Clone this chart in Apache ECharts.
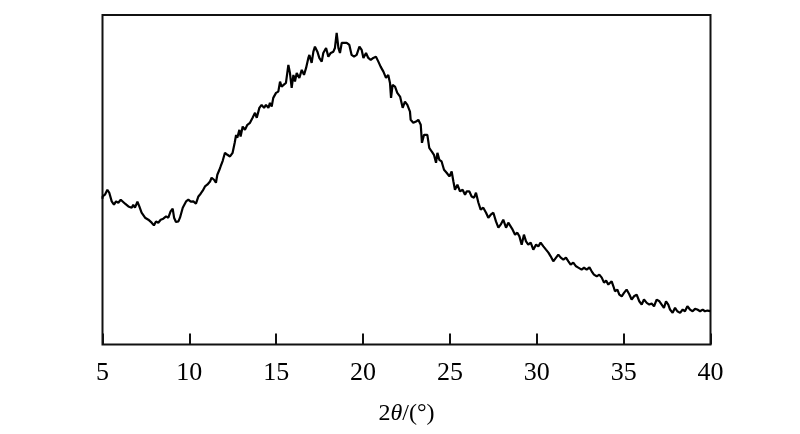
<!DOCTYPE html>
<html>
<head>
<meta charset="utf-8">
<script src="https://cdn.jsdelivr.net/npm/echarts@6/dist/echarts.min.js"></script>
<style>html,body{margin:0;padding:0;background:#fff}#c{width:800px;height:434px}</style>
</head>
<body>
<div id="c"></div>
<script>
// 2θ (degrees)
const twoTheta = [
 5.00,5.01,5.14,5.28,5.39,5.53,5.66,5.78,5.91,6.05,6.16,6.30,6.49,6.68,6.77,6.87,7.01,7.12,7.25,7.45,7.64,7.83,7.96,8.08,8.21,8.35,8.50,8.66,8.79,8.92,9.04,9.12,9.23,9.37,9.46,9.62,9.81,9.94,10.08,10.23,10.38,10.52,10.65,10.77,10.90,11.03,11.19,
 11.28,11.42,11.53,11.61,11.73,11.80,11.92,12.05,12.19,12.34,12.49,12.61,12.69,12.76,12.88,12.95,13.07,13.20,13.34,13.49,13.64,13.78,13.88,14.03,14.16,14.30,14.41,14.55,14.64,14.74,14.83,14.99,15.12,15.22,15.31,15.41,15.56,15.70,15.79,15.89,15.99,16.08,16.18,16.33,16.47,16.60,16.72,16.85,
 16.91,17.04,17.14,17.23,17.37,17.48,17.62,17.71,17.87,18.00,18.14,18.29,18.38,18.48,18.58,18.67,18.77,18.90,19.06,19.21,19.34,19.48,19.63,19.79,19.92,20.02,20.17,20.30,20.44,20.59,20.74,20.88,21.01,21.17,21.32,21.45,21.55,21.61,21.70,21.84,21.97,22.13,22.28,22.41,22.55,22.70,
 22.74,22.89,23.05,23.18,23.32,23.39,23.51,23.62,23.70,23.81,23.95,24.08,24.20,24.28,24.39,24.52,24.66,24.81,24.97,25.10,25.20,25.29,25.43,25.58,25.73,25.87,25.96,26.12,26.25,26.39,26.50,26.64,26.77,26.92,27.08,27.21,27.35,27.50,27.65,27.79,27.92,28.07,28.23,28.36,28.46,
 28.61,28.75,28.88,29.00,29.13,29.26,29.38,29.51,29.65,29.80,29.96,30.09,30.22,30.38,30.53,30.67,30.80,30.95,31.11,31.24,31.38,31.53,31.68,31.82,31.95,32.10,32.26,32.39,32.58,32.72,32.87,33.03,33.16,33.29,33.45,33.60,33.74,33.87,33.99,34.12,34.22,
 34.31,34.41,34.50,34.64,34.75,34.89,35.02,35.17,35.33,35.46,35.60,35.75,35.90,36.04,36.17,36.33,36.48,36.61,36.75,36.90,37.06,37.19,37.32,37.44,37.57,37.67,37.82,37.96,38.09,38.25,38.40,38.53,38.67,38.82,38.97,39.11,39.24,39.40,39.55,39.68,39.82,39.93,40.00
];
// Intensity (arbitrary units)
const intensity = [
 146,148.3,150,155,152,143.3,140,143.3,142,145,144,141,138.3,137,140,137,143,138.3,132,127,125,122,119.3,123.3,122,125,126,128.3,127,133.3,136,127,122.7,123.3,127,137,143.3,145,143,143.3,141,148.3,151,154,158.3,160,163.3,
 167,165,162,170,175,178.3,184,192,190,188.3,192,202,210,207,215,208.3,218.3,215,220,222,227,232,227,237,240,237,240,237,242,238.3,247,252,253.3,263.3,258.3,257,262,280,272,257,270,263.3,272,267,275,270,277,287,
 290,282,293.3,298.3,293.3,287,283.3,292,297,288.3,292,293.3,297,312,297,292,302,302,302,300,290,288.3,290,298.3,295,287,292,287,285,287,288.3,283.3,278.3,273.3,267,270,262,247,260,258.3,252,248.3,237,243.3,240,233.3,
 225,222,223.3,225,220,202,210,208.3,210,197,193.3,190,182,192,185,183.3,175,172,168.3,173.3,163.3,155,160,153.3,155,150,153.3,153.3,148.3,147,152,142,135,137,132,127,130,132,123.3,117,120,125,117,122,120,
 115,110,112,108.3,100,110,103.3,100,102,95,100,98.3,102,98.3,95,92,88.3,83.3,87,90,87,85,87,83.3,80,82,78.3,77,75,77,75,77.3,73.3,70,68.3,70,67,62,64,60,58.3,
 63.3,58.3,53.3,55,50,48.3,51.7,55,50,45,48.3,50,43.3,40,45,41.7,40,41,38.3,45,43.3,40,36.7,43.3,40,35,31.7,36.7,33.3,31.7,35,33.3,38.3,35,33.3,35.7,35,33.3,35,33.3,34,33.3,33.5
];
const xTicks = [5, 10, 15, 20, 25, 30, 35, 40];

const seriesData = twoTheta.map((x, i) => [x, intensity[i]]);
const FONT = '"Liberation Serif", "Times New Roman", serif';

const chart = echarts.init(document.getElementById('c'), null, {renderer: 'canvas'});
chart.setOption({
  animation: false,
  backgroundColor: '#fff',
  grid: {
    left: 102.5, right: 89.5, top: 15, bottom: 89.5,
    show: true, borderColor: '#111', borderWidth: 2, backgroundColor: 'transparent'
  },
  xAxis: {
    type: 'value',
    min: xTicks[0], max: xTicks[xTicks.length - 1], interval: 5,
    axisLine: {show: false},
    axisTick: {show: true, inside: true, length: 11, lineStyle: {color: '#111', width: 2}},
    splitLine: {show: false},
    axisLabel: {color: '#000', fontFamily: FONT, fontSize: 26, margin: 16},
    name: '2{i|θ}/(°)',
    nameLocation: 'middle',
    nameGap: 57,
    nameTextStyle: {
      color: '#000', fontFamily: FONT, fontSize: 24,
      rich: {i: {fontStyle: 'italic', fontFamily: FONT, fontSize: 24, color: '#000'}}
    }
  },
  yAxis: {
    type: 'value', min: 0, max: 330,
    axisLine: {show: false}, axisTick: {show: false},
    axisLabel: {show: false}, splitLine: {show: false}
  },
  series: [{
    type: 'line',
    data: seriesData,
    showSymbol: false,
    symbol: 'none',
    smooth: false,
    lineStyle: {color: '#000', width: 2.2},
    clip: true
  }]
});
</script>
</body>
</html>
